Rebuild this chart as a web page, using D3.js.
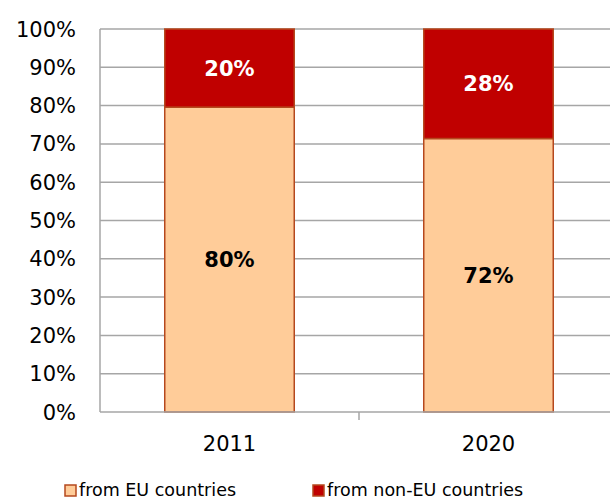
<!DOCTYPE html>
<html>
<head>
<meta charset="utf-8">
<script src="https://cdn.jsdelivr.net/npm/d3@7/dist/d3.min.js"></script>
<style>
  html, body { margin: 0; padding: 0; background: #fff; }
  svg { display: block; font-family: "DejaVu Sans", Verdana, sans-serif; }
</style>
</head>
<body>
<svg id="chart" width="610" height="501"></svg>
<script>
const categories = ["2011", "2020"];
const seriesNames = ["from EU countries", "from non-EU countries"];
const euValues = [79.6, 71.4];
const nonEuValues = [20.4, 28.6];
const euLabels = ["80%", "72%"];
const nonEuLabels = ["20%", "28%"];
const yTicks = [0, 10, 20, 30, 40, 50, 60, 70, 80, 90, 100];

const colors = { eu: "#FFCC99", nonEu: "#C00000", stroke: "#B5481E", grid: "#A6A6A6" };

const svg = d3.select("#chart");
const plotLeft = 100, plotRight = 618, plotTop = 29, plotBottom = 412;

const x = d3.scaleBand().domain(categories).range([plotLeft, plotRight]).paddingInner(0.5).paddingOuter(0.25);
const y = d3.scaleLinear().domain([0, 100]).range([plotBottom, plotTop]);

// gridlines
svg.append("g").selectAll("line").data(yTicks.filter(d => d > 0)).join("line")
  .attr("x1", plotLeft).attr("x2", plotRight)
  .attr("y1", d => y(d)).attr("y2", d => y(d))
  .attr("stroke", colors.grid).attr("stroke-width", 1.5);

// y axis line
svg.append("line").attr("x1", plotLeft).attr("x2", plotLeft).attr("y1", plotTop).attr("y2", plotBottom)
  .attr("stroke", colors.grid).attr("stroke-width", 1.5);

// y labels
svg.append("g").selectAll("text").data(yTicks).join("text")
  .attr("x", 76).attr("y", d => y(d)).attr("dy", "0.36em")
  .attr("text-anchor", "end").attr("font-size", 21).attr("fill", "#000")
  .text(d => d + "%");

// stacked data
const data = categories.map((c, i) => ({ cat: c, eu: euValues[i], nonEu: nonEuValues[i], euL: euLabels[i], nonEuL: nonEuLabels[i] }));
const stack = d3.stack().keys(["eu", "nonEu"])(data);

const g = svg.append("g");
stack.forEach(layer => {
  g.selectAll(null).data(layer).join("rect")
    .attr("x", d => x(d.data.cat))
    .attr("width", x.bandwidth())
    .attr("y", d => y(d[1]))
    .attr("height", d => y(d[0]) - y(d[1]))
    .attr("fill", layer.key === "eu" ? colors.eu : colors.nonEu)
    .attr("stroke", colors.stroke).attr("stroke-width", 1.5);
  g.selectAll(null).data(layer).join("text")
    .attr("x", d => x(d.data.cat) + x.bandwidth() / 2)
    .attr("y", d => (y(d[0]) + y(d[1])) / 2)
    .attr("dy", "0.36em")
    .attr("text-anchor", "middle").attr("font-size", 21).attr("font-weight", "bold")
    .attr("fill", layer.key === "eu" ? "#000" : "#fff")
    .text(d => layer.key === "eu" ? d.data.euL : d.data.nonEuL);
});

// x axis
svg.append("line").attr("x1", plotLeft).attr("x2", plotRight).attr("y1", plotBottom).attr("y2", plotBottom)
  .attr("stroke", colors.grid).attr("stroke-width", 1.5);
const boundaries = categories.slice(1).map(c => x(c) - x.step() * x.paddingInner() / 2);
svg.append("g").selectAll("line").data(boundaries).join("line")
  .attr("x1", d => d).attr("x2", d => d).attr("y1", plotBottom).attr("y2", plotBottom + 8)
  .attr("stroke", colors.grid).attr("stroke-width", 1.5);
svg.append("g").selectAll("text").data(categories).join("text")
  .attr("x", d => x(d) + x.bandwidth() / 2).attr("y", 451)
  .attr("text-anchor", "middle").attr("font-size", 21).attr("fill", "#000")
  .text(d => d);

// legend
const legendX = [65, 313];
const legend = svg.append("g").selectAll("g").data(seriesNames).join("g")
  .attr("transform", (d, i) => `translate(${legendX[i]},0)`);
legend.append("rect").attr("x", 0).attr("y", 485).attr("width", 11).attr("height", 11)
  .attr("fill", (d, i) => i === 0 ? colors.eu : colors.nonEu)
  .attr("stroke", colors.stroke).attr("stroke-width", 1.5);
legend.append("text").attr("x", 14).attr("y", 496).attr("font-size", 17.5).attr("fill", "#000")
  .text(d => d);
</script>
</body>
</html>
